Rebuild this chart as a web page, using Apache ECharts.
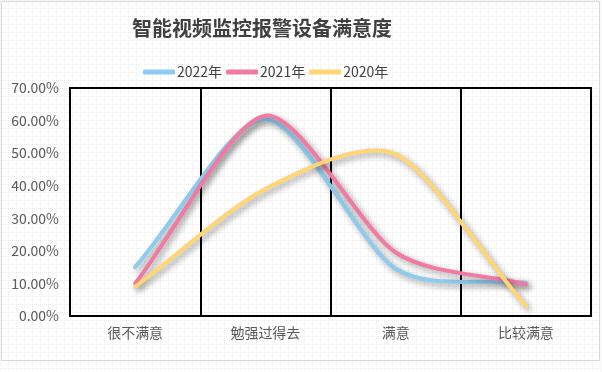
<!DOCTYPE html>
<html><head><meta charset="utf-8">
<script src="https://cdn.jsdelivr.net/npm/echarts@6/dist/echarts.min.js"></script>
<style>html,body{margin:0;padding:0;background:#fff}#c{width:602px;height:372px}</style>
</head><body><div id="c"></div>
<script>
const categories = ['很不满意', '勉强过得去', '满意', '比较满意'];
const seriesNames = ['2022年', '2021年', '2020年'];
const data2022 = [0.15, 0.605, 0.145, 0.102];
const data2021 = [0.10, 0.615, 0.195, 0.097];
const data2020 = [0.09, 0.39, 0.496, 0.03];
const colors = ['#8ECBEF', '#F07AA1', '#FFD673'];

const pc = document.createElement('canvas');
pc.width = 8; pc.height = 8;
const g = pc.getContext('2d');
g.fillStyle = '#ffffff'; g.fillRect(0, 0, 8, 8);
g.fillStyle = '#ebebeb';
for (let i = 0; i < 8; i += 2) { g.fillRect(i, 0, 1, 1); g.fillRect(0, i, 1, 1); }

const seriesData = [data2022, data2021, data2020];
const K = 0.13;

function smoothPath(pts) {
  const n = pts.length;
  let d = 'M' + pts[0][0] + ' ' + pts[0][1];
  for (let i = 0; i < n - 1; i++) {
    const p0 = pts[i], p1 = pts[i + 1];
    let c1, c2;
    if (i === 0) c1 = [p0[0] + (p1[0] - p0[0]) / 3, p0[1] + (p1[1] - p0[1]) / 3];
    else c1 = [p0[0] + (p1[0] - pts[i - 1][0]) * K, p0[1] + (p1[1] - pts[i - 1][1]) * K];
    if (i + 1 === n - 1) c2 = [p1[0] - (p1[0] - p0[0]) / 3, p1[1] - (p1[1] - p0[1]) / 3];
    else c2 = [p1[0] - (pts[i + 2][0] - p0[0]) * K, p1[1] - (pts[i + 2][1] - p0[1]) * K];
    d += ' C' + c1[0] + ' ' + c1[1] + ' ' + c2[0] + ' ' + c2[1] + ' ' + p1[0] + ' ' + p1[1];
  }
  return d;
}

const chart = echarts.init(document.getElementById('c'), null, {renderer: 'canvas'});
chart.setOption({
  animation: false,
  color: colors,
  backgroundColor: {image: pc, repeat: 'repeat'},
  title: {
    text: '智能视频监控报警设备满意度', left: 127, top: 13,
    textStyle: {fontFamily: 'Noto Sans CJK SC', fontSize: 20, fontWeight: 'bold', color: '#404040'}
  },
  legend: {
    top: 60, left: 138, itemWidth: 32, itemHeight: 5, itemGap: 4, icon: 'roundRect',
    textStyle: {fontFamily: 'Noto Sans CJK SC', fontSize: 14, color: '#404040', padding: [0, 0, 0, -3]},
    data: seriesNames
  },
  graphic: [{type: 'rect', shape: {x: 1.5, y: 1.5, width: 598, height: 359}, style: {fill: 'none', stroke: '#d9d9d9', lineWidth: 1}, silent: true, z: 100}],
  grid: {left: 70, right: 11, top: 88, bottom: 56, show: true, borderColor: '#000', borderWidth: 2, backgroundColor: 'transparent'},
  xAxis: {
    type: 'category', data: categories, boundaryGap: true,
    axisLine: {show: true, lineStyle: {color: '#000', width: 2}},
    axisTick: {show: false},
    splitLine: {show: true, lineStyle: {color: '#000', width: 2}},
    axisLabel: {margin: 10, fontFamily: 'Noto Sans CJK SC', fontSize: 14, color: '#595959'}
  },
  yAxis: {
    type: 'value', min: 0, max: 0.7, interval: 0.1,
    axisLine: {show: false}, axisTick: {show: false}, splitLine: {show: false},
    axisLabel: {margin: 11, fontFamily: 'Noto Sans CJK SC', fontSize: 14, color: '#595959',
      formatter: v => (v * 100).toFixed(2) + '%'}
  },
  series: seriesNames.map((n, si) => ({
    name: n, type: 'custom', coordinateSystem: 'cartesian2d',
    itemStyle: {color: colors[si]},
    encode: {x: 0, y: 1},
    data: seriesData[si].map((v, i) => [i, v]),
    renderItem: function (params, api) {
      if (params.dataIndex !== 0) return null;
      const pts = seriesData[si].map((v, i) => api.coord([i, v]));
      return {
        type: 'path', silent: true,
        shape: {pathData: smoothPath(pts)},
        style: {fill: 'none', stroke: colors[si], lineWidth: 4, lineCap: 'round', lineJoin: 'round',
          shadowColor: 'rgba(0,0,0,0.4)', shadowBlur: 6, shadowOffsetX: 3, shadowOffsetY: 3}
      };
    }
  }))
});
</script></body></html>
